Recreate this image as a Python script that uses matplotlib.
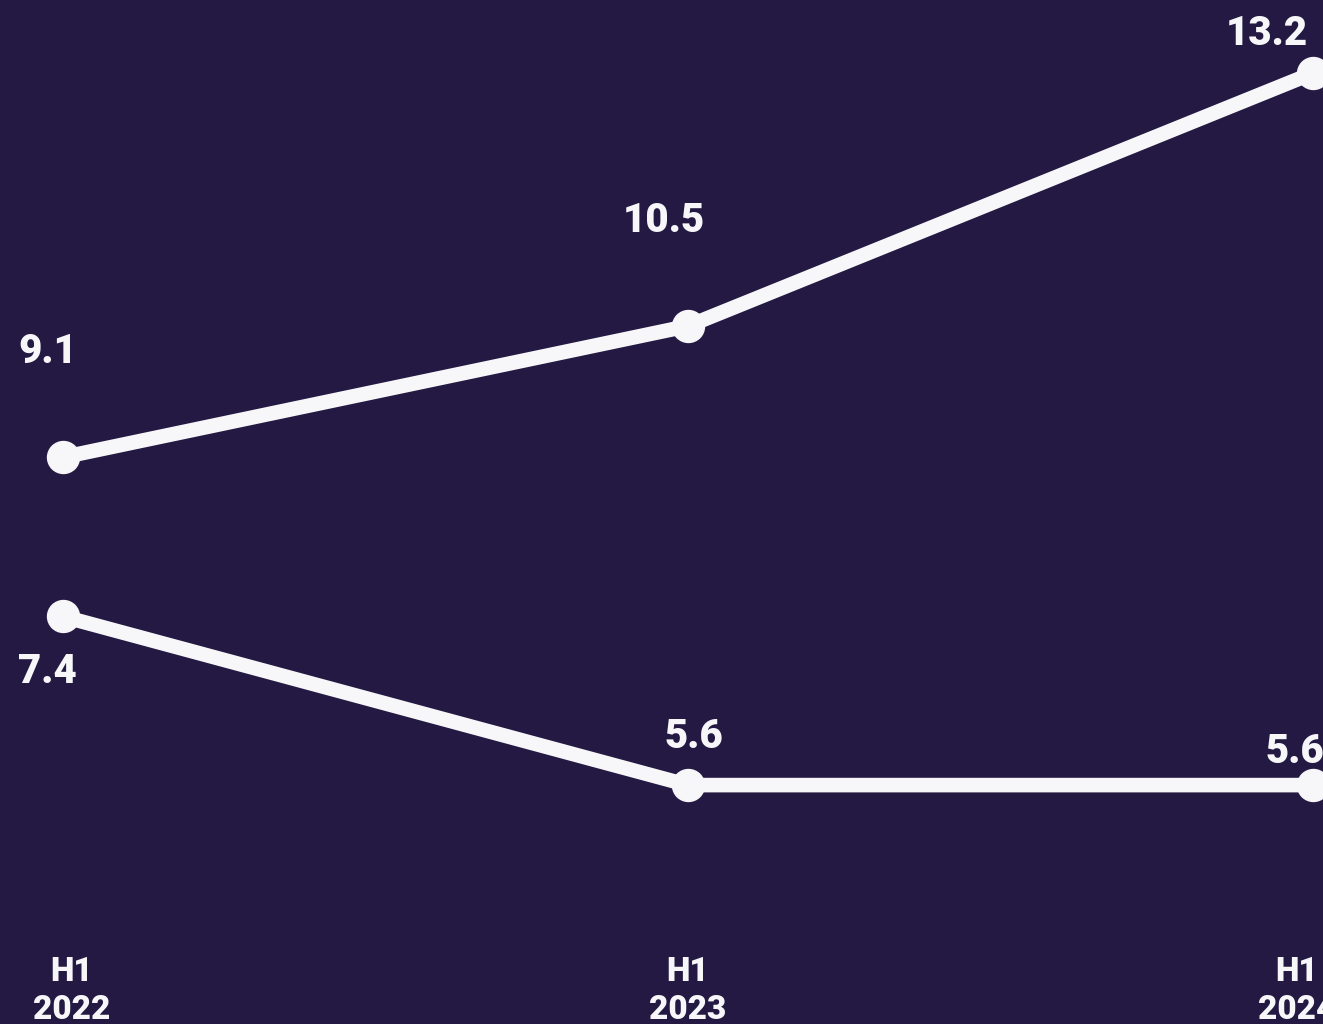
import matplotlib
matplotlib.use("Agg")
import matplotlib.pyplot as plt

periods = ["H1\n2022", "H1\n2023", "H1\n2024"]
upper = [9.1, 10.5, 13.2]
lower = [7.4, 5.6, 5.6]

# label offsets in pixels (dx, dy) relative to each point
upper_off = [(-15, 106), (-24, 106), (-46, 40)]
lower_off = [(-16, -55), (6, 49), (-18, 34)]
tick_off = [9, 0, -16]

bg = "#231942"
fg = "#f7f7f9"

fig = plt.figure(figsize=(13.23, 10.24), dpi=100, facecolor=bg)
ax = fig.add_axes([0, 0, 1, 1])
ax.set_facecolor(bg)

x = list(range(len(periods)))
for ys in (upper, lower):
    ax.plot(x, ys, color=fg, lw=10.5, marker="o", ms=23,
            solid_capstyle="round", solid_joinstyle="round")

font = dict(family=["Roboto", "DejaVu Sans"], weight=900, color=fg)
for ys, offs in ((upper, upper_off), (lower, lower_off)):
    for xi, v, (dx, dy) in zip(x, ys, offs):
        ax.annotate(f"{v}", (xi, v), xytext=(dx, dy), textcoords="offset pixels",
                    ha="center", va="center", fontsize=29, **font)

for xi, lab, dx in zip(x, periods, tick_off):
    ax.annotate(lab, (xi, 0), xycoords=("data", "axes fraction"),
                xytext=(dx, 33), textcoords="offset pixels",
                ha="center", va="center", fontsize=24, linespacing=1.25, **font)

ax.set_xlim(-0.1008, 2.016)
ax.set_ylim(3.05, 13.98)
ax.axis("off")

fig.savefig("out.png", dpi=100, facecolor=bg)
